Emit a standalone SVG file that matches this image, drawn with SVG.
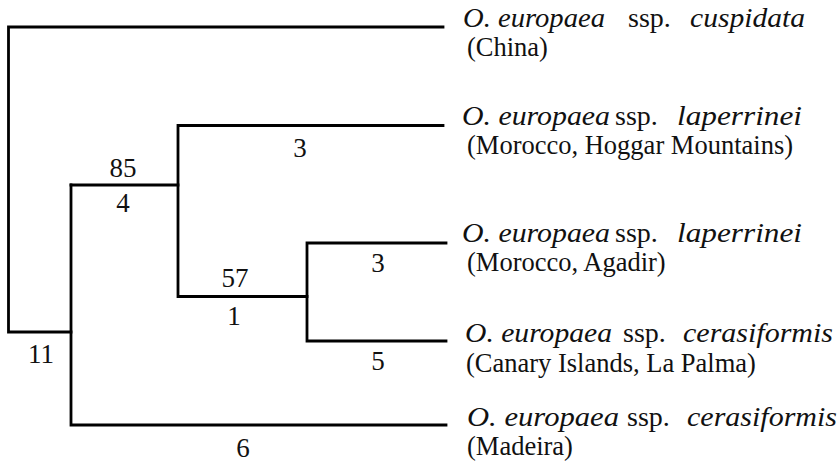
<svg xmlns="http://www.w3.org/2000/svg" width="839" height="466" viewBox="0 0 839 466">
<style>
.br{fill:none;stroke:#000;stroke-width:2.8;stroke-linecap:square;stroke-linejoin:miter}
.num{font-family:"Liberation Serif","Times New Roman",serif;font-size:27px;text-anchor:middle;fill:#111}
.sp{font-family:"Liberation Serif","Times New Roman",serif;font-size:28px;fill:#111}
.it{font-style:italic}
.loc{font-family:"Liberation Serif","Times New Roman",serif;font-size:26.5px;fill:#111}
</style>
<rect width="839" height="466" fill="#fff"/>
<g id="connectors">
<path class="br" d="M443,27 H8.5 V332 H71"/>
<path class="br" d="M71,185 V425 H446"/>
<path class="br" d="M71,185 H178"/>
<path class="br" d="M443,125.5 H178 V296.5 H307"/>
<path class="br" d="M446,243 H307 V341 H446"/>
</g>
<g id="branch-labels">
<text class="num" x="123" y="177">85</text>
<text class="num" x="123" y="212">4</text>
<text class="num" x="300" y="157">3</text>
<text class="num" x="235" y="287">57</text>
<text class="num" x="234" y="325">1</text>
<text class="num" x="378" y="272">3</text>
<text class="num" x="378" y="370">5</text>
<text class="num" x="41" y="363">11</text>
<text class="num" x="243" y="457">6</text>
</g>
<g id="leaf-cuspidata">
<text class="sp" y="27"><tspan class="it" x="463" textLength="142" lengthAdjust="spacingAndGlyphs">O. europaea</tspan><tspan x="628">ssp.</tspan><tspan class="it" x="690" textLength="115" lengthAdjust="spacingAndGlyphs">cuspidata</tspan></text>
<text class="loc" x="467" y="56">(China)</text>
</g>
<g id="leaf-laperrinei-hoggar">
<text class="sp" y="125"><tspan class="it" x="462" textLength="148" lengthAdjust="spacingAndGlyphs">O. europaea</tspan><tspan x="615">ssp.</tspan><tspan class="it" x="677" textLength="125" lengthAdjust="spacingAndGlyphs">laperrinei</tspan></text>
<text class="loc" x="467" y="154">(Morocco, Hoggar Mountains)</text>
</g>
<g id="leaf-laperrinei-agadir">
<text class="sp" y="242"><tspan class="it" x="462" textLength="148" lengthAdjust="spacingAndGlyphs">O. europaea</tspan><tspan x="615">ssp.</tspan><tspan class="it" x="677" textLength="125" lengthAdjust="spacingAndGlyphs">laperrinei</tspan></text>
<text class="loc" x="467" y="271">(Morocco, Agadir)</text>
</g>
<g id="leaf-cerasiformis-lapalma">
<text class="sp" y="342"><tspan class="it" x="465" textLength="147" lengthAdjust="spacingAndGlyphs">O. europaea</tspan><tspan x="623">ssp.</tspan><tspan class="it" x="683" textLength="150" lengthAdjust="spacingAndGlyphs">cerasiformis</tspan></text>
<text class="loc" x="466" y="372">(Canary Islands, La Palma)</text>
</g>
<g id="leaf-cerasiformis-madeira">
<text class="sp" y="426"><tspan class="it" x="467" textLength="152" lengthAdjust="spacingAndGlyphs">O. europaea</tspan><tspan x="627">ssp.</tspan><tspan class="it" x="687" textLength="150" lengthAdjust="spacingAndGlyphs">cerasiformis</tspan></text>
<text class="loc" x="467" y="455">(Madeira)</text>
</g>
</svg>
